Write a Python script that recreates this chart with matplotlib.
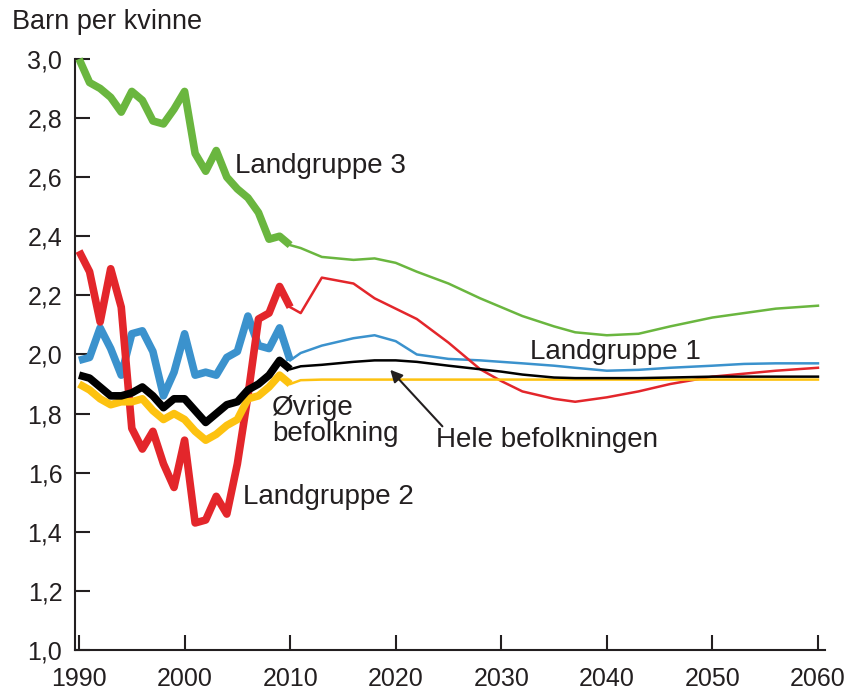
import matplotlib
matplotlib.use("Agg")
import matplotlib.pyplot as plt

plt.rcParams['font.family'] = ['Liberation Sans', 'DejaVu Sans']

# registrert (tykke linjer)
hist_years = list(range(1990, 2011))
lg3_hist = [3.00, 2.92, 2.90, 2.87, 2.82, 2.89, 2.86, 2.79, 2.78, 2.83, 2.89,
            2.68, 2.62, 2.69, 2.60, 2.56, 2.53, 2.48, 2.39, 2.40, 2.37]
lg2_hist = [2.35, 2.28, 2.11, 2.29, 2.16, 1.75, 1.68, 1.74, 1.63, 1.55, 1.71,
            1.43, 1.44, 1.52, 1.46, 1.63, 1.86, 2.12, 2.14, 2.23, 2.16]
lg1_hist = [1.98, 1.99, 2.09, 2.02, 1.93, 2.07, 2.08, 2.01, 1.86, 1.94, 2.07,
            1.93, 1.94, 1.93, 1.99, 2.01, 2.13, 2.03, 2.02, 2.09, 1.98]
hele_hist = [1.93, 1.92, 1.89, 1.86, 1.86, 1.87, 1.89, 1.86, 1.82, 1.85, 1.85,
             1.81, 1.77, 1.80, 1.83, 1.84, 1.88, 1.90, 1.93, 1.98, 1.95]
ovr_hist = [1.90, 1.88, 1.85, 1.83, 1.84, 1.84, 1.85, 1.81, 1.78, 1.80, 1.78,
            1.74, 1.71, 1.73, 1.76, 1.78, 1.85, 1.86, 1.89, 1.93, 1.90]

# framskrivning (tynne linjer)
proj_years = [2010, 2011, 2013, 2016, 2018, 2020, 2022, 2025, 2028, 2030,
              2032, 2035, 2037, 2040, 2043, 2046, 2050, 2053, 2056, 2060]
lg3_proj = [2.37, 2.36, 2.33, 2.32, 2.325, 2.31, 2.28, 2.24, 2.19, 2.16,
            2.13, 2.095, 2.075, 2.065, 2.07, 2.095, 2.125, 2.14, 2.155, 2.165]
lg2_proj = [2.16, 2.14, 2.26, 2.24, 2.19, 2.155, 2.12, 2.04, 1.95, 1.91,
            1.875, 1.85, 1.84, 1.855, 1.875, 1.90, 1.925, 1.935, 1.945, 1.955]
lg1_proj = [1.98, 2.005, 2.03, 2.055, 2.065, 2.045, 2.00, 1.985, 1.98, 1.975,
            1.97, 1.962, 1.955, 1.945, 1.948, 1.955, 1.962, 1.968, 1.97, 1.97]
hele_proj = [1.95, 1.96, 1.965, 1.975, 1.98, 1.98, 1.975, 1.962, 1.95, 1.942,
             1.932, 1.922, 1.92, 1.92, 1.92, 1.922, 1.925, 1.925, 1.925, 1.925]
ovr_proj = [1.90, 1.913, 1.915, 1.915, 1.915, 1.915, 1.915, 1.915, 1.915, 1.915,
            1.915, 1.915, 1.915, 1.915, 1.915, 1.915, 1.915, 1.915, 1.915, 1.915]

green = "#6ab63f"
red = "#e3262b"
blue = "#3b92cd"
yellow = "#fdc210"
black = "#000000"
txt = "#231f20"

fig = plt.figure(figsize=(8.5, 6.93), dpi=100)
ax = fig.add_axes([0.088, 0.062, 0.883, 0.853])

thick = 5.5
thin = 1.8
series = [(lg1_hist, lg1_proj, blue, 2),
          (lg2_hist, lg2_proj, red, 3),
          (ovr_hist, ovr_proj, yellow, 4),
          (hele_hist, hele_proj, black, 5),
          (lg3_hist, lg3_proj, green, 6)]
for h, p, c, z in series:
    ax.plot(proj_years, p, color=c, linewidth=thin, zorder=z, clip_on=False)
    ax.plot(hist_years, h, color=c, linewidth=thick, zorder=z + 0.5,
            solid_capstyle="butt", clip_on=False)

ax.set_xlim(1989.6, 2060.7)
ax.set_ylim(1.0, 3.0)
ax.set_xticks(range(1990, 2061, 10))
ax.set_yticks([1.0, 1.2, 1.4, 1.6, 1.8, 2.0, 2.2, 2.4, 2.6, 2.8, 3.0])
ax.set_yticklabels([f"{v:.1f}".replace(".", ",") for v in ax.get_yticks()])

for s in ["top", "right"]:
    ax.spines[s].set_visible(False)
for s in ["left", "bottom"]:
    ax.spines[s].set_linewidth(1.5)
    ax.spines[s].set_color(txt)
ax.tick_params(direction="in", length=11, width=1.5, color=txt,
               labelsize=18, labelcolor=txt)
ax.tick_params(axis="y", pad=9)
ax.tick_params(axis="x", pad=12)

fs = 20
ax.text(2004.8, 2.637, "Landgruppe 3", fontsize=fs, color=txt, va="center")
ax.text(2032.7, 2.01, "Landgruppe 1", fontsize=fs, color=txt, va="center")
ax.text(2008.3, 1.776, "Øvrige\nbefolkning", fontsize=fs, color=txt,
        va="center", linespacing=1.0)
ax.text(2023.8, 1.712, "Hele befolkningen", fontsize=fs, color=txt, va="center")
ax.text(2005.5, 1.518, "Landgruppe 2", fontsize=fs, color=txt, va="center")
ax.annotate("", xy=(2019.3, 1.955), xytext=(2024.6, 1.75),
            arrowprops=dict(arrowstyle="-|>", color=txt, lw=1.5,
                            mutation_scale=18), zorder=7)

fig.text(0.014, 0.968, "Barn per kvinne", fontsize=19.5, color=txt, va="center")

fig.savefig("out.png", dpi=100)
